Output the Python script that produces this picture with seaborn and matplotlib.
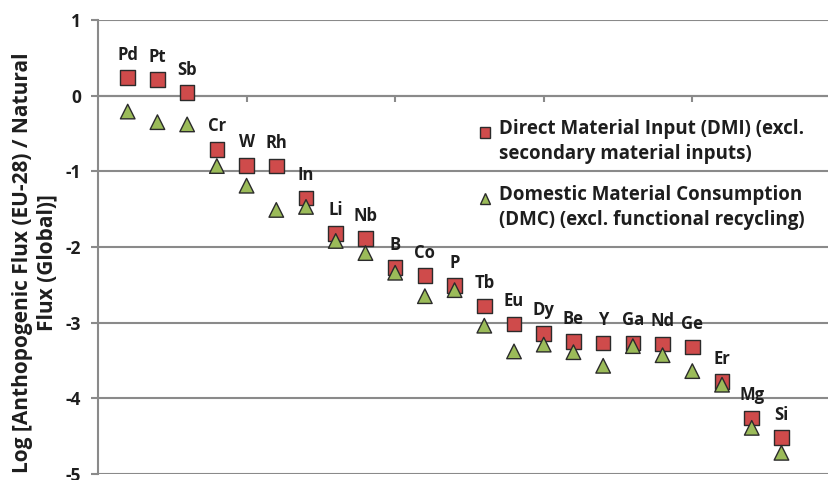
import pandas as pd
import seaborn as sns
import matplotlib.pyplot as plt
from matplotlib.markers import MarkerStyle
from matplotlib.transforms import Affine2D

elements = ['Pd', 'Pt', 'Sb', 'Cr', 'W', 'Rh', 'In', 'Li', 'Nb', 'B', 'Co', 'P',
            'Tb', 'Eu', 'Dy', 'Be', 'Y', 'Ga', 'Nd', 'Ge', 'Er', 'Mg', 'Si']
dmi = [0.24, 0.21, 0.04, -0.71, -0.92, -0.93, -1.35, -1.82, -1.89, -2.27, -2.38, -2.51,
       -2.78, -3.02, -3.14, -3.25, -3.27, -3.27, -3.28, -3.32, -3.78, -4.26, -4.52]
dmc = [-0.21, -0.35, -0.38, -0.93, -1.19, -1.51, -1.47, -1.92, -2.08, -2.34, -2.65, -2.57,
       -3.04, -3.38, -3.29, -3.39, -3.57, -3.31, -3.43, -3.64, -3.82, -4.39, -4.72]
series = ['Direct Material Input (DMI) (excl.\nsecondary material inputs)',
          'Domestic Material Consumption\n(DMC) (excl. functional recycling)']

pos = list(range(1, len(elements) + 1))
df = pd.DataFrame({
    'x': pos + pos,
    'value': dmi + dmc,
    'series': [series[0]] * len(dmi) + [series[1]] * len(dmc),
})

sns.set_style('white')
plt.rcParams['font.family'] = ['Open Sans', 'DejaVu Sans']
plt.rcParams['font.weight'] = 'bold'
plt.rcParams['axes.unicode_minus'] = False

fig = plt.figure(figsize=(8.29, 4.8), dpi=100)
ax = fig.add_axes([98 / 829, 6 / 480, 1 - 98 / 829, 454 / 480])

grid_c = '#8a8a8a'
txt_c = '#1e1e1e'
for v in range(-5, 2):
    ax.axhline(v, color=grid_c, lw=1.5, zorder=0)

sns.scatterplot(data=df, x='x', y='value', hue='series', style='series',
                palette=['#cf4b4b', '#9bbb59'], markers=['s', '^'], s=110,
                edgecolor='#2b2b2b', linewidth=1, ax=ax, zorder=3)

for x, v, name in zip(pos, dmi, elements):
    ax.annotate(name, (x, v), xytext=(0, 16.5), textcoords='offset points',
                ha='center', va='center', fontsize=12, fontweight='bold', color=txt_c)

ax.set_xlim(0, 24.6)
ax.set_ylim(-5, 1)
ax.set_yticks(range(-5, 2))
ax.set_xticks([5, 10, 15, 20])
ax.set_xticklabels([])
ax.spines['bottom'].set_position(('data', 0))
ax.spines['bottom'].set_color(grid_c)
ax.spines['bottom'].set_linewidth(1.5)
ax.spines['left'].set_color(grid_c)
ax.spines['left'].set_linewidth(1.5)
ax.spines['top'].set_visible(False)
ax.spines['right'].set_visible(False)
ax.tick_params(axis='x', direction='out', length=4, width=1.5, color=grid_c, bottom=True)
ax.tick_params(axis='y', direction='out', length=5, width=1.5, color=grid_c, left=True,
               labelsize=12.5, pad=7, labelcolor=txt_c)
for t in ax.get_yticklabels():
    t.set_fontweight('bold')
ax.set_xlabel('')
ax.set_ylabel('Log [Anthopogenic Flux (EU-28) / Natural\nFlux (Global)]',
              fontsize=15, fontweight='bold', color=txt_c, linespacing=1.2)
ax.yaxis.label.set_verticalalignment('center')
ax.yaxis.set_label_coords(-0.0862, 0.465)

handles, labels = ax.get_legend_handles_labels()
for h in handles:
    # put the legend marker next to the first line of its label
    h.set_marker(MarkerStyle(h.get_marker(), transform=Affine2D().translate(0, 1.0)))
leg = ax.legend(handles, labels, loc='upper left', frameon=False, borderpad=0,
                bbox_to_anchor=(466 / 829, 1 - 110 / 480), bbox_transform=fig.transFigure,
                prop={'size': 13.5, 'weight': 'bold'}, markerscale=0.72,
                handletextpad=0.25, handlelength=1.0, labelspacing=1.15)
for t in leg.get_texts():
    t.set_color(txt_c)
    t.set_linespacing(1.3)

fig.savefig('out.png', dpi=100)
